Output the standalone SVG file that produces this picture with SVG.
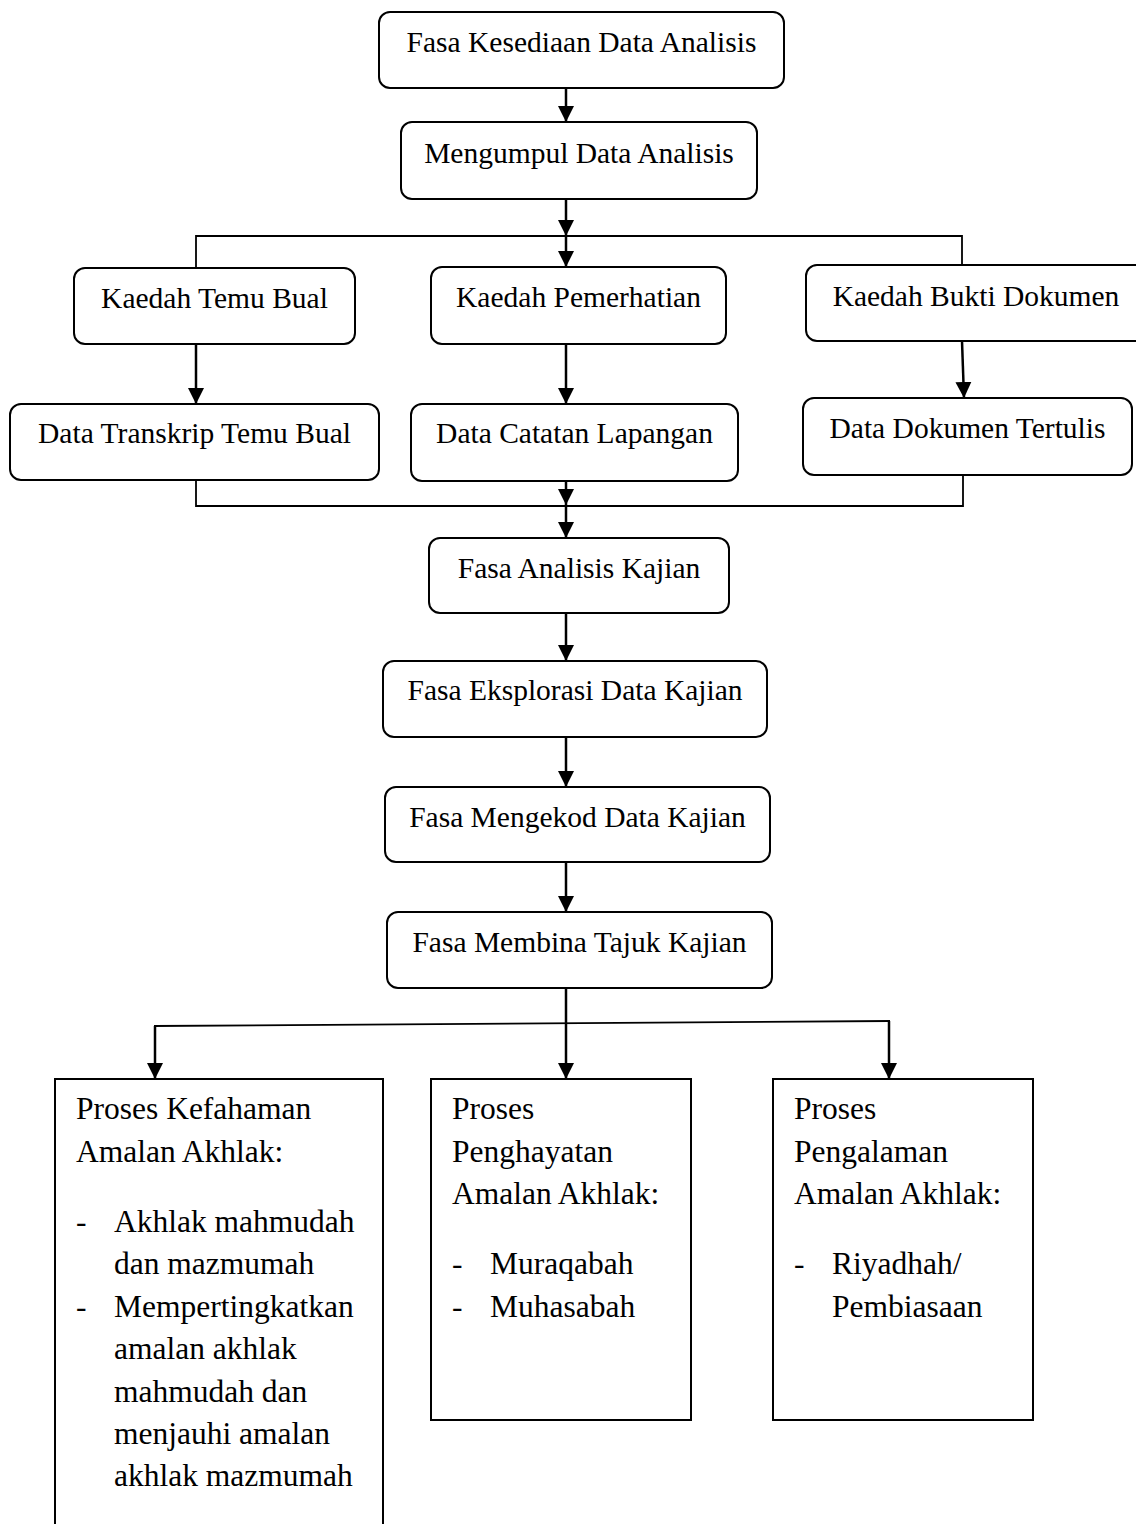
<svg xmlns="http://www.w3.org/2000/svg" width="1136" height="1524" viewBox="0 0 1136 1524">
<style>
.box{fill:#fff;stroke:#000;stroke-width:2}
.t{font-family:"Liberation Serif","Times New Roman",serif;font-size:29.5px;fill:#000;text-anchor:middle}
.b{font-family:"Liberation Serif","Times New Roman",serif;font-size:31.5px;fill:#000}
.ln{fill:none;stroke:#000;stroke-width:1.8}
.ar{fill:none;stroke:#000;stroke-width:2.5;marker-end:url(#ah)}
</style>
<defs>
<marker id="ah" markerUnits="userSpaceOnUse" markerWidth="18" markerHeight="18" viewBox="0 0 18 18" refX="16" refY="9" orient="auto">
<path d="M0,1 L16,9 L0,17 z" fill="#000"/>
</marker>
</defs>
<rect width="1136" height="1524" fill="#fff"/>
<g id="connectors">
<line class="ar" x1="566" y1="88" x2="566" y2="122"/>
<line class="ar" x1="566" y1="199" x2="566" y2="236"/>
<line class="ar" x1="566" y1="236" x2="566" y2="267"/>
<polyline class="ln" points="196,268 196,236 962,236 962,265"/>
<line class="ar" x1="196" y1="344" x2="196" y2="404"/>
<line class="ar" x1="566" y1="344" x2="566" y2="404"/>
<line class="ar" x1="962" y1="341" x2="964" y2="398"/>
<polyline class="ln" points="196,480 196,506 963,506 963,475"/>
<line class="ar" x1="566" y1="481" x2="566" y2="505"/>
<line class="ar" x1="566" y1="505" x2="566" y2="538"/>
<line class="ar" x1="566" y1="613" x2="566" y2="661"/>
<line class="ar" x1="566" y1="737" x2="566" y2="787"/>
<line class="ar" x1="566" y1="862" x2="566" y2="912"/>
<line class="ar" x1="566" y1="988" x2="566" y2="1079"/>
<line class="ln" x1="154" y1="1026" x2="890" y2="1021"/>
<line class="ar" x1="155" y1="1026" x2="155" y2="1079"/>
<line class="ar" x1="889" y1="1021" x2="889" y2="1079"/>
</g>
<g id="n1"><rect class="box" x="379" y="12" width="405" height="76" rx="11"/><text class="t" x="581.5" y="52">Fasa Kesediaan Data Analisis</text></g>
<g id="n2"><rect class="box" x="401" y="122" width="356" height="77" rx="11"/><text class="t" x="579" y="163">Mengumpul Data Analisis</text></g>
<g id="n3"><rect class="box" x="74" y="268" width="281" height="76" rx="11"/><text class="t" x="214.5" y="308">Kaedah Temu Bual</text></g>
<g id="n4"><rect class="box" x="431" y="267" width="295" height="77" rx="11"/><text class="t" x="578.5" y="307">Kaedah Pemerhatian</text></g>
<g id="n5"><rect class="box" x="806" y="265" width="340" height="76" rx="11"/><text class="t" x="976" y="306">Kaedah Bukti Dokumen</text></g>
<g id="n6"><rect class="box" x="10" y="404" width="369" height="76" rx="11"/><text class="t" x="194.5" y="443">Data Transkrip Temu Bual</text></g>
<g id="n7"><rect class="box" x="411" y="404" width="327" height="77" rx="11"/><text class="t" x="574.5" y="443">Data Catatan Lapangan</text></g>
<g id="n8"><rect class="box" x="803" y="398" width="329" height="77" rx="11"/><text class="t" x="967.5" y="438">Data Dokumen Tertulis</text></g>
<g id="n9"><rect class="box" x="429" y="538" width="300" height="75" rx="11"/><text class="t" x="579" y="578">Fasa Analisis Kajian</text></g>
<g id="n10"><rect class="box" x="383" y="661" width="384" height="76" rx="11"/><text class="t" x="575" y="700">Fasa Eksplorasi Data Kajian</text></g>
<g id="n11"><rect class="box" x="385" y="787" width="385" height="75" rx="11"/><text class="t" x="577.5" y="827">Fasa Mengekod Data Kajian</text></g>
<g id="n12"><rect class="box" x="387" y="912" width="385" height="76" rx="11"/><text class="t" x="579.5" y="952">Fasa Membina Tajuk Kajian</text></g>
<g id="n13"><rect class="box" x="55" y="1079" width="328" height="470"/>
<text class="b" x="76" y="1119">Proses Kefahaman</text>
<text class="b" x="76" y="1162">Amalan Akhlak:</text>
<text class="b" x="76" y="1232">-</text><text class="b" x="114" y="1232">Akhlak mahmudah</text>
<text class="b" x="114" y="1274">dan mazmumah</text>
<text class="b" x="76" y="1317">-</text><text class="b" x="114" y="1317">Mempertingkatkan</text>
<text class="b" x="114" y="1359">amalan akhlak</text>
<text class="b" x="114" y="1402">mahmudah dan</text>
<text class="b" x="114" y="1444">menjauhi amalan</text>
<text class="b" x="114" y="1486">akhlak mazmumah</text>
</g>
<g id="n14"><rect class="box" x="431" y="1079" width="260" height="341"/>
<text class="b" x="452" y="1119">Proses</text>
<text class="b" x="452" y="1162">Penghayatan</text>
<text class="b" x="452" y="1204">Amalan Akhlak:</text>
<text class="b" x="452" y="1274">-</text><text class="b" x="490" y="1274">Muraqabah</text>
<text class="b" x="452" y="1317">-</text><text class="b" x="490" y="1317">Muhasabah</text>
</g>
<g id="n15"><rect class="box" x="773" y="1079" width="260" height="341"/>
<text class="b" x="794" y="1119">Proses</text>
<text class="b" x="794" y="1162">Pengalaman</text>
<text class="b" x="794" y="1204">Amalan Akhlak:</text>
<text class="b" x="794" y="1274">-</text><text class="b" x="832" y="1274">Riyadhah/</text>
<text class="b" x="832" y="1317">Pembiasaan</text>
</g>
</svg>
